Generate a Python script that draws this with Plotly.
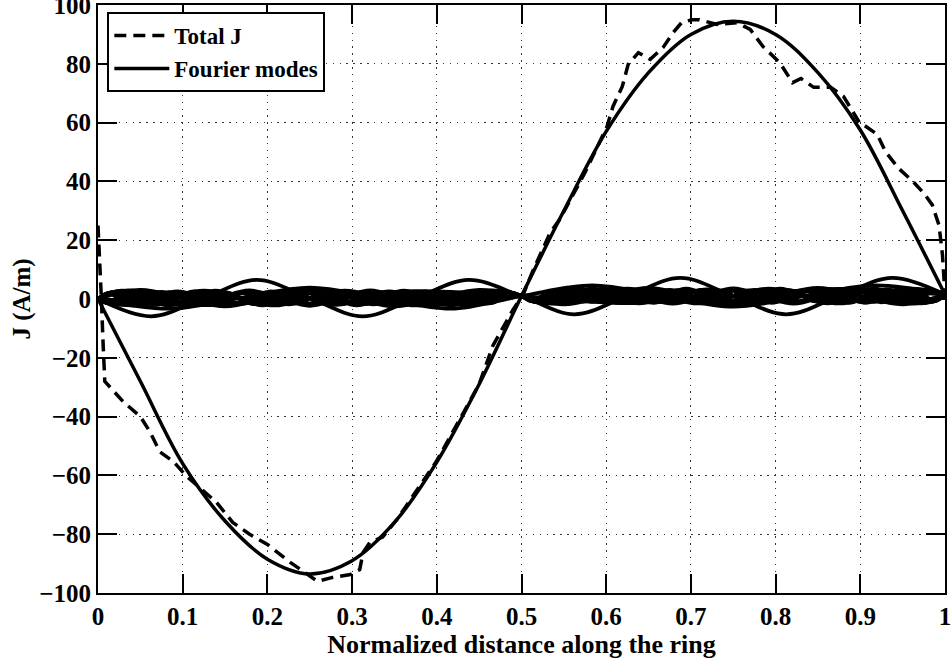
import numpy as np
import plotly.graph_objects as go

# ---------------- data ----------------
# Total J (dashed)
total_x = [0, 0.002, 0.004, 0.006, 0.008, 0.03, 0.05, 0.061, 0.073, 0.089, 0.105, 0.14, 0.159,
           0.179, 0.2, 0.227, 0.242, 0.259, 0.277, 0.298, 0.309, 0.313, 0.321, 0.336, 0.353,
           0.4, 0.45, 0.466, 0.49, 0.502, 0.514, 0.534, 0.545, 0.575, 0.601, 0.608, 0.619,
           0.626, 0.638, 0.652, 0.667, 0.679, 0.689, 0.701, 0.71, 0.731, 0.754, 0.77, 0.785,
           0.805, 0.82, 0.83, 0.845, 0.865, 0.88, 0.89, 0.9, 0.905, 0.92, 0.93, 0.945, 0.962,
           0.975, 0.985, 0.993, 0.997, 0.999, 1.0]
total_y = [25, 15, 0, -15, -28, -35, -40, -45, -52, -55.3, -60.4, -69.2, -76,
           -80, -83.5, -89.6, -92.7, -96, -94.7, -93.7, -92, -86.2, -82.8, -81, -75,
           -55, -29, -16, -3.6, 1.5, 10, 22.6, 27, 43, 58.7, 65.5, 72.3,
           79.8, 83.8, 81.5, 85.5, 90.6, 94, 95, 95, 93.4, 94, 91.7, 85.9,
           80.4, 73.6, 75, 72, 72, 69, 64, 59.5, 59, 56, 50, 44.5, 40,
           36, 32, 25, 15, 5, 1.5]

# Fundamental Fourier mode (read every 0.05)
fund_x = [0, 0.05, 0.1, 0.15, 0.2, 0.25, 0.3, 0.35, 0.4, 0.45, 0.5,
          0.55, 0.6, 0.65, 0.7, 0.75, 0.8, 0.85, 0.9, 0.95, 1.0]
fund_y = [0, -28, -56, -75.5, -88.5, -93.5, -89, -76, -55.5, -29, 1,
          30, 57, 77, 90, 94.5, 90, 77, 57.5, 30, 1.5]

# Higher Fourier modes: harmonic number, peak amplitude and sign of the first lobe
mode_numbers = [2, 3, 4, 5, 6, 7, 8, 9, 10, 11, 12, 13, 14, 15, 16, 17, 18, 19, 20, 21]
mode_amps = [2.4, 3.6, 6.2, 2.8, 2.5, 2.6, 2.3, 2.5, 2.1, 2.3, 2.0, 2.1, 1.9, 2.0, 1.8,
             1.9, 1.7, 1.8, 1.6, 1.7]
mode_first_sign = [-1, -1, -1, 1, -1, 1, -1, 1, -1, 1, -1, 1, -1, 1, -1, 1, -1, 1, -1, 1]
# centre of the band of modes (left half / right half / end point)
band_center_left = 0.3
band_center_right = 1.0
band_end = 1.5

x_ticks = [0, 0.1, 0.2, 0.3, 0.4, 0.5, 0.6, 0.7, 0.8, 0.9, 1]
y_ticks = [-100, -80, -60, -40, -20, 0, 20, 40, 60, 80, 100]

# ---------------- figure ----------------
FONT = "Liberation Serif"
fig = go.Figure()

fig.add_trace(go.Scatter(
    x=total_x, y=total_y, mode="lines", name="Total J",
    line=dict(color="black", width=3.5, dash="12px,7px"),
))

fig.add_trace(go.Scatter(
    x=fund_x, y=fund_y, mode="lines", name="Fourier modes",
    line=dict(color="black", width=3.5, shape="spline", smoothing=1.0),
))

for n, amp, sgn in zip(mode_numbers, mode_amps, mode_first_sign):
    xs = np.linspace(0, 1, 4 * n + 1)
    ys = []
    for k in range(4 * n + 1):
        c = band_center_left if xs[k] < 0.5 else band_center_right
        if k % 2 == 1:
            lobe = k // 2
            ys.append(c + (sgn if lobe % 2 == 0 else -sgn) * amp)
        elif k == 0:
            ys.append(0)
        elif k == 4 * n:
            ys.append(band_end)
        else:
            ys.append(c)
    fig.add_trace(go.Scatter(
        x=xs, y=ys, mode="lines", showlegend=False, name="Fourier modes",
        line=dict(color="black", width=3.8, shape="spline", smoothing=1.0),
    ))

axis_common = dict(
    showline=True, linecolor="black", linewidth=2, mirror="allticks",
    ticks="inside", ticklen=19, tickwidth=2, tickcolor="black",
    showgrid=True, gridcolor="#333333", gridwidth=1.4, griddash="1.4px,5.5px",
    zeroline=False, ticklabeloverflow="allow", automargin=False,
    tickfont=dict(family=FONT, size=25, color="black", weight="bold"),
)

fig.update_xaxes(
    range=[0, 1], tickvals=x_ticks, ticktext=[str(v) for v in x_ticks],
    title=dict(text="Normalized distance along the ring",
               font=dict(family=FONT, size=26, color="black", weight="bold"), standoff=4),
    **axis_common,
)
fig.update_yaxes(
    range=[-100, 100], tickvals=y_ticks,
    title=dict(text="J (A/m)",
               font=dict(family=FONT, size=25, color="black", weight="bold"), standoff=2),
    **axis_common,
)

fig.update_layout(
    width=951, height=661, autosize=False,
    margin=dict(l=98, r=6, t=5, b=68),
    paper_bgcolor="white", plot_bgcolor="white",
    showlegend=True,
    legend=dict(
        x=0.011, y=0.988, xanchor="left", yanchor="top",
        bgcolor="white", bordercolor="black", borderwidth=2,
        font=dict(family=FONT, size=23, color="black", weight="bold"),
        tracegroupgap=0, itemwidth=55,
    ),
)

fig.write_html("out.html")
